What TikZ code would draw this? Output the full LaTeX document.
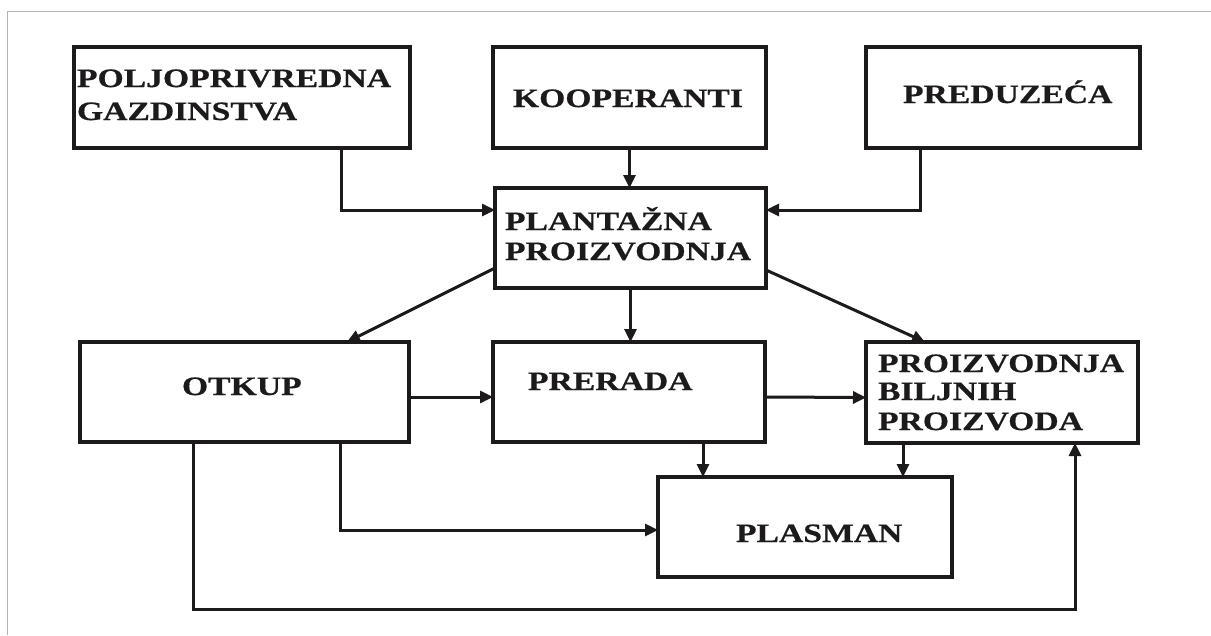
\documentclass[tikz,border=0pt]{standalone}
\usepackage{fontspec}
\newfontfamily\diagfont{Liberation Serif}[FakeStretch=1.27,FakeBold=0.6]
\usetikzlibrary{arrows.meta,calc}
\definecolor{ink}{HTML}{1C1A1A}
\definecolor{frame}{HTML}{B4B4B4}
\tikzset{
  box/.style={draw=ink, line width=4pt, rectangle, inner sep=0pt, outer sep=0pt},
  lbl/.style={anchor=base west, inner sep=0pt, outer sep=0pt, text=ink,
              font=\diagfont\bfseries\fontsize{26.5}{30}\selectfont},
  conn/.style={draw=ink, line width=3pt, -{Triangle[length=13pt,width=12pt]}},
}
\begin{document}
\begin{tikzpicture}[x=1pt,y=-1pt]
\useasboundingbox (0,0) rectangle (1211,635);
\fill[white] (0,0) rectangle (1211,635);
\draw[frame, line width=1pt] (7,635) -- (7,11) -- (1211,11);

% boxes
\node[box, minimum width=336pt, minimum height=101pt] (polj) at (242,97.5) {};
\node[box, minimum width=273pt, minimum height=101pt] (koop) at (629.5,97.5) {};
\node[box, minimum width=274pt, minimum height=101pt] (pred) at (1003,97.5) {};
\node[box, minimum width=271pt, minimum height=100pt] (plant) at (630.5,238) {};
\node[box, minimum width=329pt, minimum height=100pt] (otkup) at (244.5,392) {};
\node[box, minimum width=272pt, minimum height=100pt] (prerada) at (629,392) {};
\node[box, minimum width=272pt, minimum height=101pt] (proiz) at (1002,392.5) {};
\node[box, minimum width=294pt, minimum height=100pt] (plasman) at (805,527) {};

% labels
\node[lbl] (poljA) at (77,87) {POLJOPRIVREDNA};
\node[lbl] (poljB) at (77,120) {GAZDINSTVA};
\node[lbl] (koopT) at (513,107) {KOOPERANTI};
\node[lbl] (predT) at (903,103) {PREDUZEĆA};
\node[lbl] (plantA) at (505,230) {PLANTAŽNA};
\node[lbl] (plantB) at (505,260) {PROIZVODNJA};
\node[lbl] (otkupT) at (182,395) {OTKUP};
\node[lbl] (preradaT) at (528,390) {PRERADA};
\node[lbl] (proizA) at (878,372) {PROIZVODNJA};
\node[lbl] (proizB) at (878,400) {BILJNIH};
\node[lbl] (proizC) at (878,430) {PROIZVODA};
\node[lbl] (plasmanT) at (736,542) {PLASMAN};

% helper coordinates on box borders
\coordinate (pj) at ([xshift=267pt]polj.south west);
\coordinate (pd) at ([xshift=54pt]pred.south west);
\coordinate (pl1) at ([yshift=20pt]plant.south west);
\coordinate (pl2) at ([yshift=18pt]plant.south east);
\coordinate (ot1) at ([xshift=267pt]otkup.north west);
\coordinate (pz1) at ([xshift=59pt]proiz.north west);
\coordinate (ps1) at ([xshift=45pt]plasman.north west);
\coordinate (ps2) at ([xshift=245pt]plasman.north west);
\coordinate (os1) at ([xshift=113pt]otkup.south west);
\coordinate (os2) at ([xshift=260pt]otkup.south west);
\coordinate (pzb) at ([xshift=209pt]proiz.south west);
\coordinate (loopy) at (0,609);

% connectors
\draw[conn] (pj) |- ([yshift=28pt]plant.west);
\draw[conn] (koop.south) -- (koop.south |- plant.north);
\draw[conn] (pd) |- ([yshift=28pt]plant.east);
\draw[conn] (pl1) -- (ot1);
\draw[conn] (plant.south) -- (plant.south |- prerada.north);
\draw[conn] (pl2) -- (pz1);
\draw[conn] ([yshift=-5pt]otkup.east) -- ([yshift=-5pt]prerada.west);
\draw[conn] ([yshift=-5pt]prerada.east) -- ([yshift=-5pt]proiz.west);
\draw[conn] (ps1 |- prerada.south) -- (ps1);
\draw[conn] (ps2 |- proiz.south) -- (ps2);
\draw[conn] (os2) |- ([yshift=-3pt]plasman.west);
\draw[conn] (os1) -- (os1 |- loopy) -| (pzb);
\end{tikzpicture}
\end{document}
